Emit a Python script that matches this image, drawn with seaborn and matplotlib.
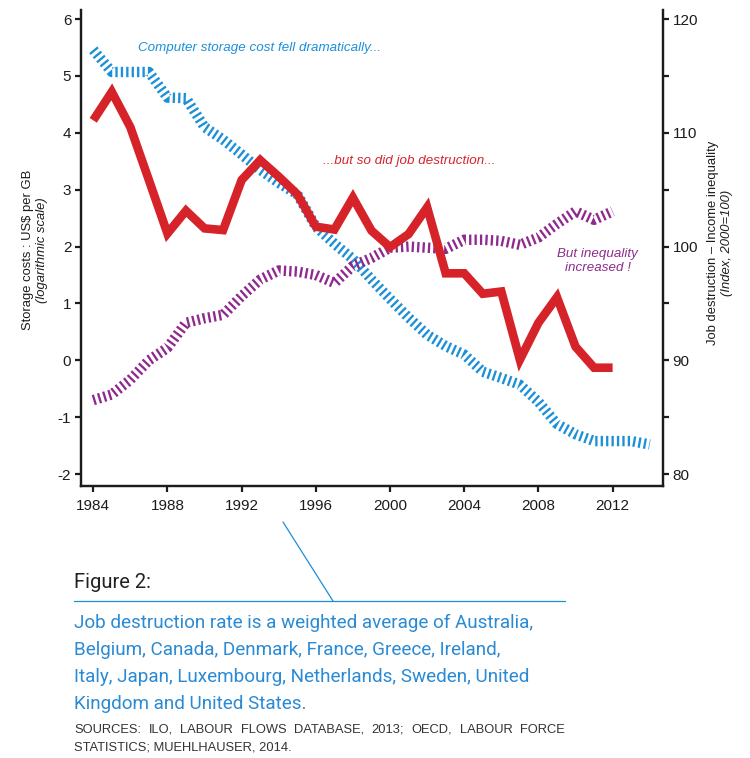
import numpy as np
import pandas as pd
import seaborn as sns
import matplotlib.pyplot as plt
from matplotlib.lines import Line2D
from matplotlib.ticker import MultipleLocator

# values
years_storage = list(range(1984, 2015))
storage_log = [5.46, 5.07, 5.07, 5.07, 4.62, 4.61, 4.10, 3.88, 3.62, 3.35,
               3.12, 2.92, 2.35, 2.05, 1.78, 1.42, 1.08, 0.75, 0.45, 0.25,
               0.10, -0.20, -0.31, -0.43, -0.73, -1.12, -1.30, -1.42, -1.42, -1.42,
               -1.48]
years_index = list(range(1984, 2013))
job_destruction = [111.1, 113.6, 110.5, 105.85, 101.15, 103.15, 101.6, 101.45, 105.85, 107.6,
                   106.15, 104.6, 101.75, 101.5, 104.3, 101.4, 99.95, 101.1, 103.45, 97.65,
                   97.65, 95.85, 96.05, 90.05, 93.3, 95.55, 91.2, 89.35, 89.35]
inequality = [86.5, 87.0, 88.3, 90.0, 91.1, 93.3, 93.7, 94.0, 95.65, 97.1,
              97.9, 97.8, 97.5, 96.8, 98.3, 99.0, 99.9, 100.0, 99.9, 99.8,
              100.6, 100.6, 100.5, 100.15, 100.8, 102.0, 103.1, 102.35, 103.1]
x_ticks = [1984, 1988, 1992, 1996, 2000, 2004, 2008, 2012]

BLUE = "#1b8fd8"
RED = "#d6232a"
PURPLE = "#8e2a8e"
INK = "#1c1c1c"

sns.set_style("ticks")
plt.rcParams["font.family"] = ["Liberation Sans", "DejaVu Sans"]
plt.rcParams["axes.unicode_minus"] = False

W, H = 750, 758
fig = plt.figure(figsize=(W / 100, H / 100), dpi=100)
ax = fig.add_axes([81 / W, 1 - 486 / H, (662.7 - 81) / W, (486 - 10) / H])
ax2 = ax.twinx()

hatch = (0, (0.22, 0.30))
sns.lineplot(x=years_storage, y=storage_log, ax=ax, color=BLUE, linewidth=7.5,
             linestyle=hatch, dash_capstyle="butt")
sns.lineplot(x=years_index, y=inequality, ax=ax2, color=PURPLE, linewidth=7.5,
             linestyle=hatch, dash_capstyle="butt")
sns.lineplot(x=years_index, y=job_destruction, ax=ax2, color=RED, linewidth=6.2,
             solid_capstyle="butt", solid_joinstyle="miter")

ax.set_xlim(1983.34, 2014.7)
lo, hi = -2.21, 6.16
ax.set_ylim(lo, hi)
ax2.set_ylim(100 + (lo - 2) * 5, 100 + (hi - 2) * 5)
ax.set_xticks(x_ticks)
ax.set_yticks(range(-2, 7))
ax2.set_yticks(range(80, 121, 10))
ax2.yaxis.set_minor_locator(MultipleLocator(5))

for a in (ax, ax2):
    for s in a.spines.values():
        s.set_linewidth(1.6)
        s.set_color(INK)
    a.spines["top"].set_visible(False)
    a.tick_params(which="both", width=1.6, length=4, color=INK, labelsize=11,
                  labelcolor=INK, pad=3)
    a.set_xlabel("")
    a.set_ylabel("")
ax.tick_params(axis="x", pad=5)

# annotations
note_kw = dict(style="italic", fontsize=9.6, va="center")
ax.text(1986.4, 5.49, "Computer storage cost fell dramatically...", color=BLUE, **note_kw)
ax.text(1996.4, 3.50, "...but so did job destruction...", color=RED, **note_kw)
ax.text(2011.2, 1.75, "But inequality\nincreased !", color=PURPLE,
        ha="center", linespacing=1.2, **note_kw)

# axis titles
fig.text(28 / W, 1 - 250 / H, "Storage costs : US$ per GB", rotation=90,
         fontsize=9.4, color=INK, ha="center", va="center")
fig.text(42 / W, 1 - 250 / H, "(logarithmic scale)", rotation=90, style="italic",
         fontsize=9.4, color=INK, ha="center", va="center")
fig.text(713 / W, 1 - 243 / H, "Job destruction \u2013 Income inequality", rotation=90,
         fontsize=9.4, color=INK, ha="center", va="center")
fig.text(727 / W, 1 - 243 / H, "(Index, 2000=100)", rotation=90, style="italic",
         fontsize=9.4, color=INK, ha="center", va="center")

# caption block
fig.add_artist(Line2D([283 / W, 333 / W], [1 - 522 / H, 1 - 601 / H],
                      color=BLUE, linewidth=0.9))
fig.add_artist(Line2D([74 / W, 565 / W], [1 - 601 / H, 1 - 601 / H],
                      color=BLUE, linewidth=0.9))
fig.text(74 / W, 1 - 583 / H, "Figure 2:", fontsize=14.5, color="#222222",
         family=["Roboto", "DejaVu Sans"], va="center")

caption = ["Job destruction rate is a weighted average of Australia,",
           "Belgium, Canada, Denmark, France, Greece, Ireland,",
           "Italy, Japan, Luxembourg, Netherlands, Sweden, United",
           "Kingdom and United States."]
for i, line in enumerate(caption):
    fig.text(74 / W, 1 - (623 + 27 * i) / H, line, fontsize=13.6, color="#2a8ad4",
             family=["Roboto", "DejaVu Sans"], va="center")

sources = ["SOURCES: ILO, LABOUR FLOWS DATABASE, 2013; OECD, LABOUR FORCE",
           "STATISTICS; MUEHLHAUSER, 2014."]
src_kw = dict(fontsize=9.3, color="#333333", va="center")
words = sources[0].split(" ")
texts = [fig.text(0, 1 - 730 / H, w, **src_kw) for w in words]
fig.canvas.draw()
r = fig.canvas.get_renderer()
widths = [t.get_window_extent(r).width for t in texts]
gap = ((565 - 74) - sum(widths)) / (len(words) - 1)
x = 74.0
for t, w in zip(texts, widths):
    t.set_x(x / W)
    x += w + gap
fig.text(74 / W, 1 - 747 / H, sources[1], **src_kw)

fig.savefig("out.png", dpi=100)
